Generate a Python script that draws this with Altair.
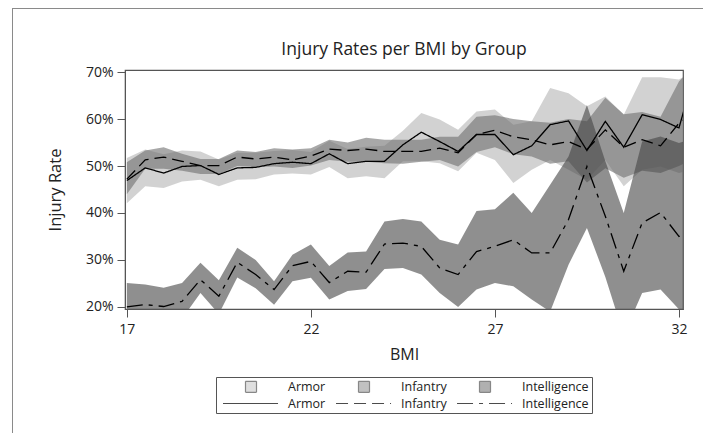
import altair as alt
import pandas as pd

# ---- data (percent) ----
bmi = [17.0, 17.5, 18.0, 18.5, 19.0, 19.5, 20.0, 20.5, 21.0, 21.5, 22.0, 22.5,
       23.0, 23.5, 24.0, 24.5, 25.0, 25.5, 26.0, 26.5, 27.0, 27.5, 28.0, 28.5,
       29.0, 29.5, 30.0, 30.5, 31.0, 31.5, 32.0, 32.5]

armor_rate = [46.9, 49.6, 48.5, 49.9, 50.1, 48.2, 49.6, 49.7, 50.5, 50.8, 50.5, 52.6,
              50.5, 51.0, 51.0, 54.5, 57.2, 55.2, 53.1, 56.7, 56.7, 52.4, 54.3, 58.8,
              59.6, 53.3, 59.5, 54.0, 60.9, 59.9, 58.1, 72.0]
armor_lo = [42.1, 45.7, 45.3, 46.7, 47.1, 45.7, 47.1, 47.2, 48.2, 48.4, 48.2, 49.8,
            47.4, 47.8, 47.4, 51.0, 51.0, 50.6, 48.9, 52.8, 51.3, 46.4, 49.2, 51.3,
            49.2, 47.1, 51.3, 45.7, 49.2, 49.9, 48.5, 49.5]
armor_hi = [51.7, 53.5, 52.5, 53.3, 53.1, 51.4, 52.8, 52.8, 53.2, 53.4, 53.0, 55.4,
            53.6, 54.1, 54.3, 57.5, 61.3, 59.9, 57.7, 61.6, 62.0, 58.8, 59.5, 66.6,
            65.5, 62.7, 64.8, 60.9, 68.9, 68.9, 68.4, 70.5]

infantry_rate = [47.2, 51.3, 51.9, 51.0, 50.1, 50.1, 51.9, 51.5, 51.9, 51.3, 52.1, 53.6,
                 53.3, 53.6, 53.1, 53.1, 53.1, 53.8, 52.8, 56.7, 57.6, 56.2, 55.6, 54.5,
                 55.2, 53.5, 57.7, 54.0, 55.6, 54.3, 59.1, 62.0]
infantry_lo = [44.0, 49.4, 49.4, 49.0, 48.3, 48.3, 50.0, 49.8, 49.9, 49.6, 50.1, 51.3,
               50.9, 50.9, 50.6, 50.5, 50.9, 51.3, 49.9, 53.0, 54.0, 52.5, 52.0, 50.5,
               51.0, 46.5, 49.5, 47.5, 49.0, 48.5, 50.0, 52.0]
infantry_hi = [50.8, 53.3, 54.0, 52.6, 51.5, 51.5, 53.3, 53.0, 53.8, 53.5, 53.8, 55.6,
               55.0, 56.0, 55.6, 55.6, 55.6, 56.2, 56.2, 60.5, 60.8, 60.0, 59.5, 59.2,
               60.0, 59.5, 64.5, 61.0, 61.5, 60.5, 68.0, 72.0]

intel_rate = [20.0, 20.5, 20.1, 21.2, 25.8, 22.3, 29.5, 26.9, 23.7, 28.8, 29.7, 25.2,
              27.6, 27.4, 33.4, 33.6, 32.9, 28.3, 26.9, 31.8, 32.9, 34.3, 31.5, 31.5,
              38.6, 49.9, 39.3, 27.6, 37.9, 40.1, 35.0, 37.0]
intel_lo = [16.0, 16.0, 16.0, 17.5, 23.0, 18.5, 26.3, 24.0, 20.5, 25.5, 26.2, 21.6,
            23.4, 23.8, 28.1, 28.3, 26.9, 23.0, 20.0, 23.7, 25.1, 24.4, 21.6, 19.0,
            29.0, 36.8, 26.4, 14.0, 23.0, 23.7, 19.5, 18.0]
intel_hi = [25.1, 24.8, 24.1, 25.1, 29.4, 25.7, 32.6, 30.0, 25.5, 31.1, 33.3, 28.7,
            31.6, 31.8, 38.2, 38.7, 38.2, 34.3, 33.3, 40.4, 40.8, 44.3, 40.0, 46.0,
            52.0, 63.0, 51.0, 40.0, 55.2, 56.3, 54.9, 56.0]

groups = ["Armor", "Infantry", "Intelligence"]
x_ticks = [17, 22, 27, 32]
y_ticks = [20, 30, 40, 50, 60, 70]

# ---- styling ----
band_keys = [g + " band" for g in groups]
line_keys = [g + " line" for g in groups]
keys = band_keys + line_keys
fill_range = ["rgba(180,180,180,0.6)", "rgba(110,110,110,0.6)", "rgba(68,68,68,0.6)",
              "rgba(0,0,0,0)", "rgba(0,0,0,0)", "rgba(0,0,0,0)"]
stroke_range = ["#555555", "#555555", "#555555", "#000000", "#000000", "#000000"]
dash_range = [[1, 0], [1, 0], [1, 0], [1, 0], [12, 6], [16, 6, 4, 6]]
# legend glyphs (unit box scaled by sqrt(symbolSize)/2 = 5.5 px)
square = "M3.636,-1L5.636,-1L5.636,1L3.636,1Z"
stroke_sym = "M-0.45,0L9.55,0"
shape_range = [square, square, square, stroke_sym, stroke_sym, stroke_sym]

FONT = "Open Sans"

band_rows = []
for g, los, his in zip(groups, [armor_lo, infantry_lo, intel_lo], [armor_hi, infantry_hi, intel_hi]):
    for b, lo, hi in zip(bmi, los, his):
        band_rows.append({"bmi": b, "key": g + " band", "lo": lo, "hi": hi})
line_rows = []
for g, rs in zip(groups, [armor_rate, infantry_rate, intel_rate]):
    for b, r in zip(bmi, rs):
        line_rows.append({"bmi": b, "key": g + " line", "rate": r})
band_df = pd.DataFrame(band_rows)
line_df = pd.DataFrame(line_rows)

xscale = alt.Scale(domain=[16.95, 32.11], nice=False, zero=False)
yscale = alt.Scale(domain=[19.57, 70.43], nice=False, zero=False)
xaxis = alt.Axis(values=x_ticks, title="BMI", tickSize=8, labelPadding=5, titlePadding=10,
                 grid=False, labelFontSize=14, titleFontSize=16)
yaxis = alt.Axis(values=y_ticks, labelExpr="datum.value + '%'", title="Injury Rate",
                 tickSize=8, labelPadding=4, titlePadding=22, grid=False,
                 labelFontSize=14, titleFontSize=16.5)

leg = alt.Legend(title=None, orient="none", legendX=91, legendY=307, direction="horizontal",
                 columns=3, symbolSize=121, labelExpr="split(datum.label, ' ')[0]",
                 labelFont=FONT, labelFontSize=12.5, labelColor="#222", labelOffset=56,
                 columnPadding=6, rowPadding=2, padding=3, strokeColor="#555555",
                 symbolStrokeWidth=1.2, symbolStrokeColor="#555555")

X = alt.X("bmi:Q", scale=xscale, axis=xaxis)

bands = alt.Chart(band_df).mark_area(clip=True).encode(
    x=X,
    y=alt.Y("lo:Q", scale=yscale, axis=yaxis),
    y2="hi:Q",
    fill=alt.Fill("key:N", scale=alt.Scale(domain=keys, range=fill_range), legend=leg),
)

lines = alt.Chart(line_df).mark_line(clip=True, strokeWidth=1.3).encode(
    x=X,
    y=alt.Y("rate:Q", scale=yscale, axis=yaxis),
    stroke=alt.Stroke("key:N", scale=alt.Scale(domain=keys, range=stroke_range), legend=leg),
    strokeDash=alt.StrokeDash("key:N", scale=alt.Scale(domain=keys, range=dash_range), legend=leg),
)

points = alt.Chart(line_df).mark_point(clip=True, size=0, strokeWidth=0).encode(
    x=X,
    y=alt.Y("rate:Q", scale=yscale, axis=yaxis),
    shape=alt.Shape("key:N", scale=alt.Scale(domain=keys, range=shape_range), legend=leg),
)

# thin frame lines along the top and left edge of the figure
frame_df = pd.DataFrame({"edge": ["top"]})
frame_top = alt.Chart(frame_df).mark_rule(color="#8a8a8a", strokeWidth=1).encode(
    x=alt.value(-113), x2=alt.value(580), y=alt.value(-61.5)
)
frame_left = alt.Chart(frame_df).mark_rule(color="#8a8a8a", strokeWidth=1).encode(
    x=alt.value(-112.5), y=alt.value(-62), y2=alt.value(365)
)

chart = alt.layer(bands, lines, points, frame_top, frame_left).properties(
    width=558,
    height=239,
    title=alt.TitleParams("Injury Rates per BMI by Group", font=FONT, fontSize=17.5,
                          fontWeight="normal", color="#222", offset=0, dy=51,
                          anchor="middle", frame="group"),
    autosize=alt.AutoSizeParams(type="none"),
    padding={"left": 117, "top": 62, "right": 20, "bottom": 124},
).configure_view(
    stroke="#555555", strokeWidth=1.2
).configure_axis(
    labelFont=FONT, titleFont=FONT, labelColor="#222", titleColor="#222",
    titleFontWeight="normal", tickColor="#555555", domainColor="#555555",
)

chart.save("out.html", embed_options={"renderer": "svg", "actions": False})
